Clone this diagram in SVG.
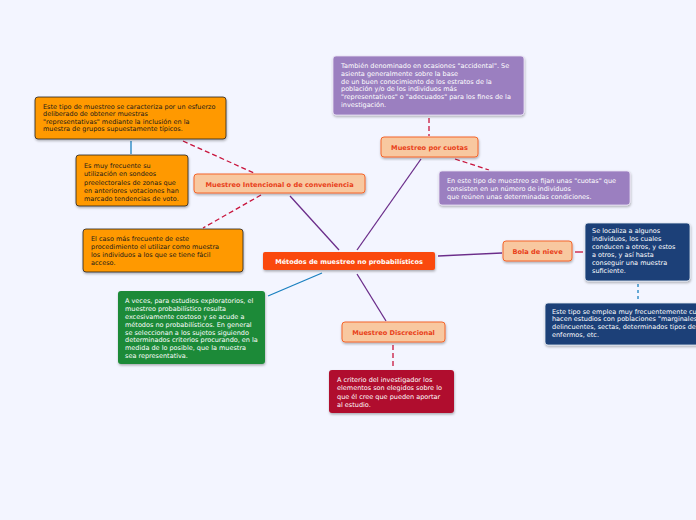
<svg xmlns="http://www.w3.org/2000/svg" width="696" height="520" viewBox="0 0 696 520">
<defs>
<filter id="sh" x="-10%" y="-10%" width="120%" height="130%"><feDropShadow dx="0.5" dy="1.5" stdDeviation="1" flood-color="#000" flood-opacity="0.3"/></filter>
<style>
text{font-family:"DejaVu Sans",Verdana,sans-serif;font-size:6.5px;}
.w{fill:#ffffff;}
.k{fill:#1a1a1a;}
.topic{fill:#f8c8a0;stroke:#f4652a;stroke-width:1;}
.tl{fill:#e8401a;font-weight:bold;font-size:6.6px;text-anchor:middle;}
.or{fill:#ff9900;stroke:#222;stroke-width:0.8;}
.pu{fill:#9b7fc0;stroke:#e8e0f4;stroke-width:0.8;}
.nv{fill:#1a4178;stroke:#e0e6f0;stroke-width:0.8;}
.gr{fill:#1b8a37;}
.rd{fill:#b00f2e;}
.lp{stroke:#6b2d8a;stroke-width:1.3;fill:none;}
.lb{stroke:#1a80c0;stroke-width:1.3;fill:none;}
.ld{stroke:#c8143c;stroke-width:1.3;fill:none;stroke-dasharray:5,3;}
.lr{stroke:#c8143c;stroke-width:1.3;fill:none;}
.lbd{stroke:#1a80c0;stroke-width:1.3;fill:none;stroke-dasharray:3,3;}
</style>
</defs>
<rect width="696" height="520" fill="#f3f5ff"/>
<g id="connectors">
<line class="lp" x1="357" y1="250" x2="421" y2="159"/>
<line class="lp" x1="339" y1="250" x2="290" y2="196"/>
<line class="lp" x1="438" y1="256" x2="502" y2="253"/>
<line class="lp" x1="357" y1="274" x2="386" y2="321"/>
<line class="lb" x1="322" y1="273" x2="268" y2="296"/>
<line class="ld" x1="429" y1="118" x2="429" y2="136"/>
<line class="ld" x1="455" y1="159" x2="489" y2="170"/>
<line class="ld" x1="183" y1="141" x2="254" y2="173"/>
<line class="ld" x1="261" y1="195" x2="203" y2="228"/>
<line class="lb" x1="131" y1="141" x2="131" y2="154"/>
<line class="lr" x1="575" y1="252" x2="583" y2="252"/>
<line class="lbd" x1="638" y1="284" x2="638" y2="302"/>
<line class="ld" x1="393" y1="345" x2="393" y2="369"/>
</g>
<g id="central">
<rect x="263" y="252" width="172" height="18" rx="2" fill="#fa4a10" filter="url(#sh)"/>
<text x="349" y="264" class="w" font-weight="bold" font-size="6.8px" text-anchor="middle">Métodos de muestreo no probabilísticos</text>
</g>
<g id="cuotas">
<rect x="381" y="137" width="97" height="20" rx="3" class="topic" filter="url(#sh)"/>
<text x="429.5" y="150" class="tl">Muestreo por cuotas</text>
</g>
<g id="cuotas-desc1">
<rect x="333" y="56" width="191" height="59" rx="3" class="pu" filter="url(#sh)"/>
<text class="w"><tspan x="341" y="68">También denominado en ocasiones "accidental". Se</tspan><tspan x="341" y="75.8">asienta generalmente sobre la base</tspan><tspan x="341" y="83.6">de un buen conocimiento de los estratos de la</tspan><tspan x="341" y="91.4">población y/o de los individuos más</tspan><tspan x="341" y="99.2">"representativos" o "adecuados" para los fines de la</tspan><tspan x="341" y="107">investigación.</tspan></text>
</g>
<g id="cuotas-desc2">
<rect x="439" y="171" width="191" height="34" rx="3" class="pu" filter="url(#sh)"/>
<text class="w"><tspan x="447" y="182.5">En este tipo de muestreo se fijan unas "cuotas" que</tspan><tspan x="447" y="190.5">consisten en un número de individuos</tspan><tspan x="447" y="198.5">que reúnen unas determinadas condiciones.</tspan></text>
</g>
<g id="intencional">
<rect x="194" y="174" width="171" height="19" rx="3" class="topic" filter="url(#sh)"/>
<text x="279.5" y="186.5" class="tl">Muestreo Intencional o de conveniencia</text>
</g>
<g id="int-desc1">
<rect x="35" y="97" width="191" height="42" rx="3" class="or" filter="url(#sh)"/>
<text class="k"><tspan x="43" y="108.5">Este tipo de muestreo se caracteriza por un esfuerzo</tspan><tspan x="43" y="116">deliberado de obtener muestras</tspan><tspan x="43" y="123.5">"representativas" mediante la inclusión en la</tspan><tspan x="43" y="131">muestra de grupos supuestamente típicos.</tspan></text>
</g>
<g id="int-desc2">
<rect x="76" y="155" width="112" height="51" rx="3" class="or" filter="url(#sh)"/>
<text class="k"><tspan x="84" y="168">Es muy frecuente su</tspan><tspan x="84" y="176.3">utilización en sondeos</tspan><tspan x="84" y="184.6">preelectorales de zonas que</tspan><tspan x="84" y="192.8">en anteriores votaciones han</tspan><tspan x="84" y="201">marcado tendencias de voto.</tspan></text>
</g>
<g id="int-desc3">
<rect x="83" y="229" width="160" height="43" rx="3" class="or" filter="url(#sh)"/>
<text class="k"><tspan x="91" y="241">El caso más frecuente de este</tspan><tspan x="91" y="249">procedimiento el utilizar como muestra</tspan><tspan x="91" y="257">los individuos a los que se tiene fácil</tspan><tspan x="91" y="265">acceso.</tspan></text>
</g>
<g id="general-desc">
<rect x="118" y="291" width="147" height="73" rx="3" class="gr" filter="url(#sh)"/>
<text class="w"><tspan x="125" y="303">A veces, para estudios exploratorios, el</tspan><tspan x="125" y="311">muestreo probabilístico resulta</tspan><tspan x="125" y="319">excesivamente costoso y se acude a</tspan><tspan x="125" y="326.8">métodos no probabilísticos. En general</tspan><tspan x="125" y="334.6">se seleccionan a los sujetos siguiendo</tspan><tspan x="125" y="342.4">determinados criterios procurando, en la</tspan><tspan x="125" y="350.4">medida de lo posible, que la muestra</tspan><tspan x="125" y="358.4">sea representativa.</tspan></text>
</g>
<g id="bola">
<rect x="503" y="241" width="69" height="20" rx="3" class="topic" filter="url(#sh)"/>
<text x="537.5" y="254" class="tl">Bola de nieve</text>
</g>
<g id="bola-desc1">
<rect x="585" y="223" width="105" height="58" rx="3" class="nv" filter="url(#sh)"/>
<text class="w"><tspan x="592" y="233">Se localiza a algunos</tspan><tspan x="592" y="241">individuos, los cuales</tspan><tspan x="592" y="249">conducen a otros, y estos</tspan><tspan x="592" y="257">a otros, y así hasta</tspan><tspan x="592" y="265">conseguir una muestra</tspan><tspan x="592" y="273">suficiente.</tspan></text>
</g>
<g id="bola-desc2">
<rect x="545" y="303" width="160" height="42" rx="3" class="nv" filter="url(#sh)"/>
<text class="w"><tspan x="552" y="313.5">Este tipo se emplea muy frecuentemente cuando se</tspan><tspan x="552" y="321.2">hacen estudios con poblaciones "marginales",</tspan><tspan x="552" y="329">delincuentes, sectas, determinados tipos de</tspan><tspan x="552" y="337">enfermos, etc.</tspan></text>
</g>
<g id="discrecional">
<rect x="342" y="322" width="103" height="20" rx="3" class="topic" filter="url(#sh)"/>
<text x="393.5" y="335" class="tl">Muestreo Discrecional</text>
</g>
<g id="disc-desc">
<rect x="329" y="370" width="125" height="43" rx="3" class="rd" filter="url(#sh)"/>
<text class="w"><tspan x="337" y="382">A criterio del investigador los</tspan><tspan x="337" y="390.3">elementos son elegidos sobre lo</tspan><tspan x="337" y="398.6">que él cree que pueden aportar</tspan><tspan x="337" y="406.8">al estudio.</tspan></text>
</g>
</svg>
